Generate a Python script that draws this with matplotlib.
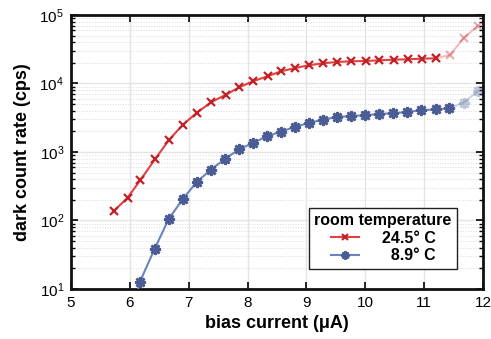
import matplotlib
matplotlib.use("Agg")
import matplotlib.pyplot as plt
from matplotlib.lines import Line2D
from matplotlib.ticker import LogLocator, NullFormatter

plt.rcParams['font.family'] = ['Liberation Sans', 'DejaVu Sans']
plt.rcParams['mathtext.fontset'] = 'custom'
plt.rcParams['mathtext.rm'] = 'Liberation Sans'
plt.rcParams['mathtext.it'] = 'Liberation Sans:italic'
plt.rcParams['mathtext.bf'] = 'Liberation Sans:bold'

# ---- data ----
red_x = [5.73, 5.96, 6.18, 6.43, 6.66, 6.90, 7.14, 7.38, 7.63, 7.86, 8.10, 8.34,
         8.57, 8.81, 9.04, 9.28, 9.52, 9.76, 10.01, 10.24, 10.48, 10.72, 10.96, 11.20]
red_y = [138, 215, 390, 790, 1480, 2500, 3750, 5320, 6860, 8800, 10870, 12740,
         15070, 16830, 18450, 19720, 20600, 21100, 21300, 21800, 22250, 22560, 23000, 23350]
red_fx = [11.20, 11.44, 11.67, 11.91]
red_fy = [23350, 26060, 45700, 69800]

blue_x = [5.93, 6.17, 6.42, 6.66, 6.90, 7.14, 7.38, 7.62, 7.85, 8.10, 8.33, 8.57,
          8.81, 9.04, 9.28, 9.52, 9.76, 10.00, 10.23, 10.47, 10.71, 10.95, 11.20, 11.43]
blue_y = [2.0, 12.7, 38.4, 105, 206, 368, 555, 796, 1088, 1367, 1695, 1978,
          2340, 2650, 2965, 3243, 3355, 3434, 3590, 3673, 3837, 4063, 4200, 4345]
blue_fx = [11.43, 11.67, 11.91]
blue_fy = [4345, 5245, 7690]

x_ticks = [5, 6, 7, 8, 9, 10, 11, 12]
y_ticks = [10, 100, 1000, 10000, 100000]
y_tick_labels = [r'$\mathregular{10^{1}}$', r'$\mathregular{10^{2}}$', r'$\mathregular{10^{3}}$',
                 r'$\mathregular{10^{4}}$', r'$\mathregular{10^{5}}$']
legend_title = 'room temperature'
labels = ['24.5° C', '\u20078.9° C']

red_line = '#e3403f'
red_mark = '#c02226'
blue_line = '#6b84bd'
blue_mark = '#4a5c93'

fig = plt.figure(figsize=(4.91, 3.39), dpi=100)
ax = fig.add_axes([0.1446, 0.1475, 0.9837 - 0.1446, 0.9558 - 0.1475])
ax.set_yscale('log')
ax.set_xlim(5, 12)
ax.set_ylim(10, 1e5)

ax.set_xticks(x_ticks)
ax.set_yticks(y_ticks)
ax.set_yticklabels(y_tick_labels)
ax.yaxis.set_minor_locator(LogLocator(base=10, subs=range(2, 10), numticks=20))
ax.yaxis.set_minor_formatter(NullFormatter())
ax.grid(True, which='major', color='#e4e4e4', lw=1.0, ls='-', zorder=0)
ax.grid(True, which='minor', axis='y', color='#dcdcdc', lw=0.7, ls=':', zorder=0)
ax.set_axisbelow(True)

star = (8, 2, 0)
# faded parts
ax.plot(red_fx, red_fy, color=red_line, lw=1.5, alpha=0.35, marker='x', ms=6.2,
        mew=1.6, mec=red_mark, zorder=2)
ax.plot(blue_fx, blue_fy, color=blue_line, lw=1.5, alpha=0.35, marker=star, ms=8,
        mew=1.9, mec=blue_mark, zorder=2)
# main
ax.plot(red_x, red_y, color=red_line, lw=1.5, marker='x', ms=6.2, mew=1.6, mec=red_mark, zorder=3)
ax.plot(blue_x, blue_y, color=blue_line, lw=1.5, marker=star, ms=8, mew=1.9,
        mec=blue_mark, zorder=3)

for s in ax.spines.values():
    s.set_linewidth(2.0)
    s.set_color('#111111')

ax.tick_params(which='both', direction='in', top=True, right=True)
ax.tick_params(which='major', length=5, width=1.2, labelsize=11, pad=5)
ax.tick_params(which='minor', length=3, width=1.0)

ax.set_xlabel('bias current (μA)', fontsize=13, fontweight='bold', labelpad=4)
ax.set_ylabel('dark count rate (cps)', fontsize=13, fontweight='bold', labelpad=6)

handles = [Line2D([], [], color=red_line, lw=1.5, marker='x', ms=5, mew=1.5, mec=red_mark),
           Line2D([], [], color=blue_line, lw=1.5, marker=star, ms=6, mew=1.6, mec=blue_mark)]
leg = ax.legend(handles, labels, title=legend_title, loc='lower right',
                bbox_to_anchor=(0.957, 0.045), title_fontsize=11.5,
                prop={'weight': 'bold', 'size': 11.5}, handlelength=1.8, handletextpad=1.4,
                borderpad=0.35, labelspacing=0.15, fancybox=False, framealpha=1,
                edgecolor='#222222')
leg.get_title().set_fontweight('bold')
leg.get_frame().set_linewidth(1.0)

fig.savefig('out.png', dpi=100)
